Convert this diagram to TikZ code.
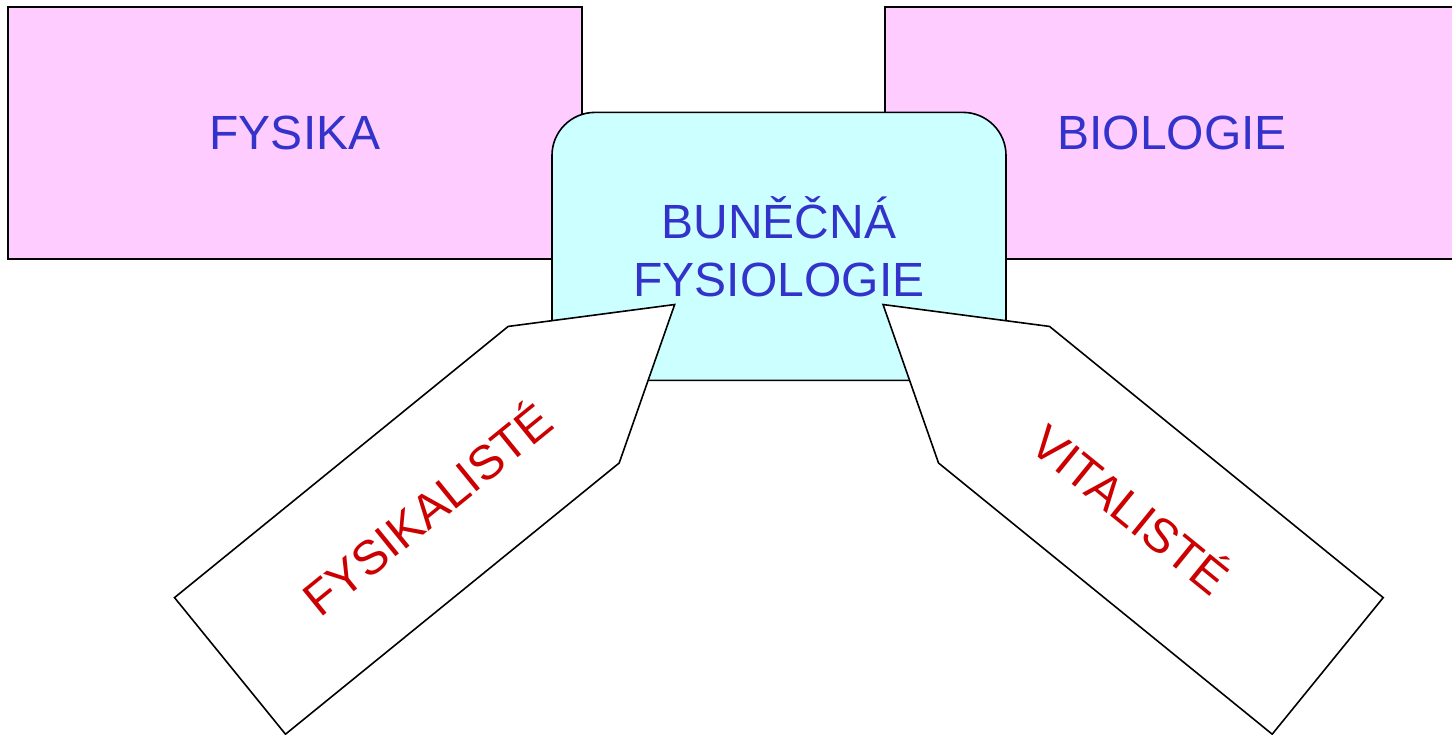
\documentclass[tikz,border=0pt]{standalone}
\usepackage{fontspec}
\setmainfont{Liberation Sans}
\definecolor{ruzova}{HTML}{FFCCFF}
\definecolor{azurova}{HTML}{CCFFFF}
\definecolor{modra}{HTML}{3333CC}
\definecolor{cervena}{HTML}{CC0000}
\tikzset{
  obor/.style={draw,line width=1.6pt,fill=ruzova,text=modra,
    minimum width=574pt,minimum height=252pt},
  jadro/.style={draw,line width=1.6pt,fill=azurova,text=modra,align=center,
    rounded corners=43pt,minimum width=454pt,minimum height=268pt},
  sipka/.style={draw,line width=1.6pt,fill=white},
  popis/.style={text=cervena}
}
\begin{document}
\begin{tikzpicture}[x=1pt,y=-1pt,font=\fontsize{48}{58}\selectfont]
\useasboundingbox (0,0) rectangle (1452,735);
% ---------- 两个学科 ----------
\node[obor] (fysika) at (295,133.3) {FYSIKA};
\node[obor] (biologie) at (1172,133.3) {BIOLOGIE};
% ---------- 中间圆角框 ----------
\node[jadro] (bunecna) at (779,246.4) {BUNĚČNÁ\\FYSIOLOGIE};
% ---------- 左箭头（39°） ----------
\begin{scope}[shift={(230,665.9)},rotate=39.1]
\draw[sipka] (0,-88) -- (430,-88) -- (573,0) -- (430,88) -- (0,88) -- cycle;
\node[popis,rotate=39.1] (fyz) at (252,0) {FYSIKALISTÉ};
\end{scope}
% ---------- 右箭头（镜像） ----------
\begin{scope}[shift={(1327.7,665.9)},rotate=140.9]
\draw[sipka] (0,-88) -- (430,-88) -- (573,0) -- (430,88) -- (0,88) -- cycle;
\node[popis,rotate=-39.1] (vit) at (252,0) {VITALISTÉ};
\end{scope}
\end{tikzpicture}
\end{document}
